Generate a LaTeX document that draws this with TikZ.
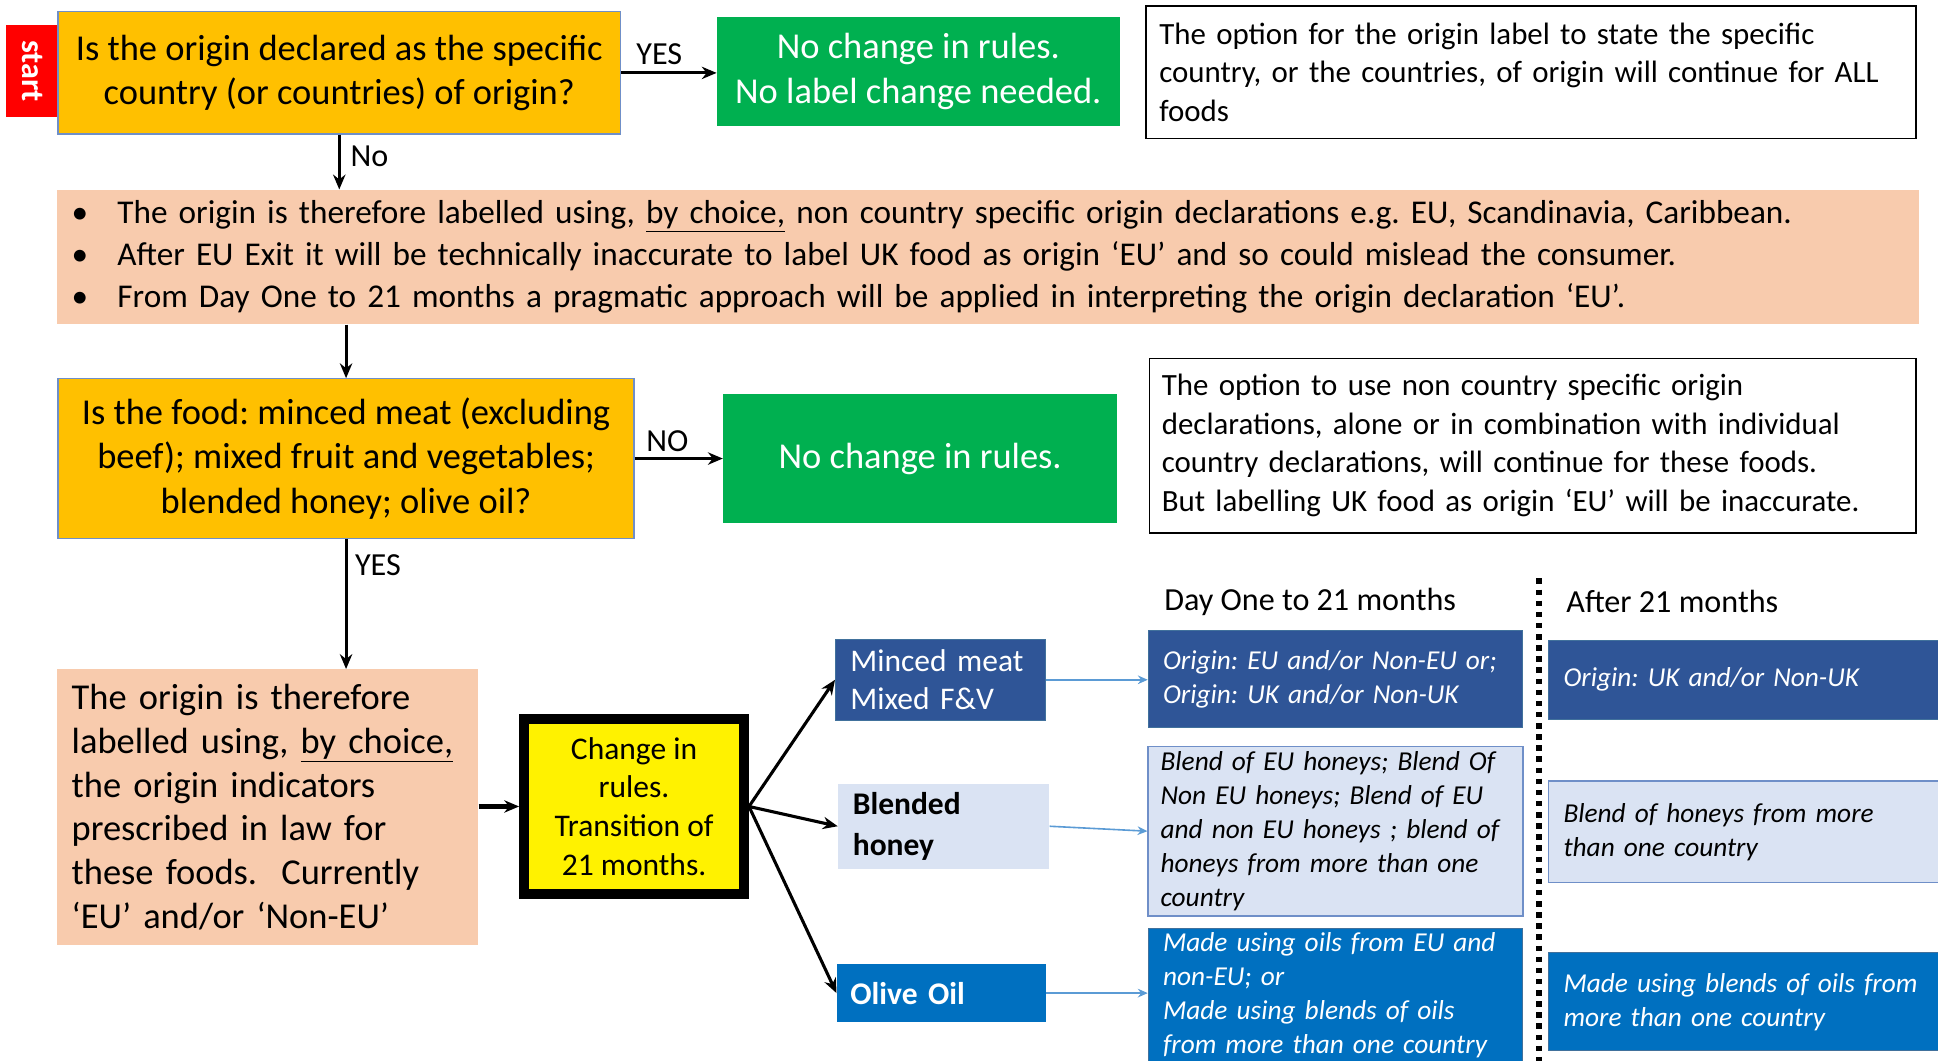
\documentclass[tikz,border=0pt]{standalone}
\usepackage{fontspec}
\setmainfont{Carlito}
\usepackage{xcolor}
\usetikzlibrary{arrows.meta}
\definecolor{qyellow}{RGB}{255,192,0}
\definecolor{okgreen}{RGB}{0,176,80}
\definecolor{salmon}{RGB}{248,203,173}
\definecolor{navy}{RGB}{47,85,151}
\definecolor{paleblue}{RGB}{218,227,243}
\definecolor{oilblue}{RGB}{0,112,192}
\definecolor{edgeblue}{RGB}{65,113,156}
\definecolor{frameblue}{RGB}{111,143,200}
\definecolor{linkblue}{RGB}{91,155,213}
\newcommand{\bul}{\makebox[37pt][l]{\textbullet}}
\frenchspacing

\begin{document}
\begin{tikzpicture}[x=1pt,y=-1pt,>={Stealth[length=12pt,width=10pt]}]
            \tikzset{
                box/.style={
                    rectangle,
                    inner sep=0pt,
                    align=center
                },
                question/.style={box, fill=qyellow, draw=frameblue, line width=1pt,
                    font=\fontsize{29.5}{36}\selectfont},
                verdict/.style={box, fill=okgreen, text=white,
                    font=\fontsize{29.5}{36}\selectfont},
                remark/.style={box, draw=black, line width=1.3pt, fill=white,
                    align=left, inner xsep=11pt, font=\fontsize{25}{31.3}\selectfont},
                info/.style={box, fill=salmon, align=left, inner xsep=12pt},
                food/.style={box, align=left, inner xsep=12pt,
                    font=\fontsize{25.5}{31}\selectfont},
                rule/.style={box, align=left, inner xsep=12pt,
                    font=\fontsize{22.1}{27.5}\selectfont\itshape},
                tag/.style={inner sep=0pt, font=\fontsize{26}{30}\selectfont},
                flow/.style={->, line width=2.5pt},
                link/.style={-{Stealth[length=8pt,width=7pt]}, linkblue, line width=1.3pt}
            }
            \useasboundingbox (0,0) rectangle (1568,858);

            % First question
            \node[box, fill=red, text=white, rotate=-90, minimum width=75pt,
                minimum height=43pt, font=\fontsize{26}{30}\selectfont\bfseries]
                (start) at (26.5,57.5) {start};
            \node[question, minimum width=455pt, minimum height=99pt] (Q_Country) at (274.5,59)
                {Is the origin declared as the specific\\country (or countries) of origin?};
            \node[verdict, minimum width=326pt, minimum height=88pt] (V_Label) at (743,58)
                {No change in rules.\\No label change needed.};
            \node[remark, minimum width=623pt, minimum height=107pt, text width=601pt]
                (R_AllFoods) at (1238.5,58.5)
                {The option for the origin label to state the specific\\
                 country, or the countries, of origin will continue for ALL\\
                 foods};

            % Band of bullet points
            \node[info, minimum width=1507pt, minimum height=109pt, text width=1483pt,
                font=\fontsize{26.9}{34}\selectfont] (I_Band) at (799.5,208)
                {\bul The origin is therefore labelled using, \underline{by choice,} non country specific origin declarations e.g. EU, Scandinavia, Caribbean.\\
                 \bul After EU Exit it will be technically inaccurate to label UK food as origin ‘EU’ and so could mislead the consumer.\\
                 \bul From Day One to 21 months a pragmatic approach will be applied in interpreting the origin declaration ‘EU’.};

            % Second question
            \node[question, minimum width=466pt, minimum height=129pt] (Q_Food) at (280,371)
                {Is the food: minced meat (excluding\\beef); mixed fruit and vegetables;\\blended honey; olive oil?};
            \node[verdict, minimum width=319pt, minimum height=104pt] (V_Rules) at (744.5,371)
                {No change in rules.};
            \node[remark, minimum width=620pt, minimum height=141pt, text width=600pt,
                inner xsep=10pt] (R_TheseFoods) at (1240,360.5)
                {The option to use non country specific origin\\
                 declarations, alone or in combination with individual\\
                 country declarations, will continue for these foods.\\
                 But labelling UK food as origin ‘EU’ will be inaccurate.};

            % Transition
            \node[info, minimum width=341pt, minimum height=223pt, text width=317pt,
                font=\fontsize{29.5}{35.4}\selectfont] (I_Law) at (216.5,653)
                {The origin is therefore\\labelled using, \underline{by choice,}\\the origin indicators\\
                 prescribed in law for\\these foods.\ \ Currently\\‘EU’ and/or ‘Non-EU’};
            \node[box, fill=yellow, draw=black, line width=8pt, minimum width=178pt,
                minimum height=141pt, font=\fontsize{25.5}{31.3}\selectfont]
                (T_Change) at (513,652.5)
                {Change in\\rules.\\Transition of\\21 months.};

            %% Foods
            \node[food, fill=navy, draw=edgeblue, line width=0.8pt, text=white,
                minimum width=170pt, minimum height=66pt, text width=146pt]
                (F_Mince) at (761,550) {Minced meat\\Mixed F\&V};
            \node[food, fill=paleblue, minimum width=171pt, minimum height=69pt,
                text width=147pt, font=\fontsize{25.5}{33}\selectfont\bfseries]
                (F_Honey) at (763.5,668.5) {Blended\\honey};
            \node[food, fill=oilblue, text=white, minimum width=169pt, minimum height=47pt,
                text width=147pt, inner xsep=11pt, font=\fontsize{25.5}{31}\selectfont\bfseries]
                (F_Oil) at (761.5,803.5) {Olive Oil};

            %% Day One to 21 months
            \node[tag] (H_Day) at (1060,487) {Day One to 21 months};
            \node[rule, fill=navy, draw=edgeblue, line width=0.8pt, text=white,
                minimum width=303pt, minimum height=79pt, text width=279pt]
                (D_Mince) at (1080.5,549.5)
                {Origin: EU and/or Non-EU or;\\Origin: UK and/or Non-UK};
            \node[rule, fill=paleblue, draw=frameblue, line width=1.3pt,
                minimum width=303pt, minimum height=137pt, text width=283pt, inner xsep=10pt]
                (D_Honey) at (1080.5,672.5)
                {Blend of EU honeys; Blend Of\\Non EU honeys; Blend of EU\\
                 and non EU honeys ; blend of\\honeys from more than one\\country};
            \node[rule, fill=oilblue, draw=edgeblue, line width=0.8pt, text=white,
                minimum width=303pt, minimum height=108pt, text width=279pt]
                (D_Oil) at (1080.5,805)
                {Made using oils from EU and\\non-EU; or\\Made using blends of oils\\from more than one country};

            %% After 21 months
            \node[tag] (H_After) at (1353,487) {After 21 months};
            \node[rule, fill=navy, draw=edgeblue, line width=0.8pt, text=white,
                minimum width=320pt, minimum height=64pt, text width=296pt]
                (A_Mince) at (1413,550) {Origin: UK and/or Non-UK};
            \node[rule, fill=paleblue, draw=frameblue, line width=1.3pt,
                minimum width=320pt, minimum height=82pt, text width=296pt]
                (A_Honey) at (1413,673) {Blend of honeys from more\\than one country};
            \node[rule, fill=oilblue, draw=edgeblue, line width=0.8pt, text=white,
                minimum width=320pt, minimum height=79pt, text width=296pt]
                (A_Oil) at (1413,810.5) {Made using blends of oils from\\more than one country};

            \coordinate (Div_T) at (1245,468);
            \coordinate (Div_B) at (1245,862);
            \draw[line width=4.5pt, dash pattern=on 4.5pt off 4.5pt] (Div_T) -- (Div_B);

            % Connectors
            \draw[flow] (Q_Country.east) -- node[tag, above=5pt, pos=0.4] {YES}
                (Q_Country.east -| V_Label.west);
            \draw[flow] (Q_Country.south) -- node[tag, right=8pt, pos=0.4] {No}
                (Q_Country.south |- I_Band.north);
            \draw[flow] (I_Band.south -| Q_Food.north) -- (Q_Food.north);
            \draw[flow] (Q_Food.east) -- node[tag, above=4pt, pos=0.37] {NO}
                (Q_Food.east -| V_Rules.west);
            \draw[flow] (Q_Food.south) -- node[tag, right=6pt, pos=0.2] {YES}
                (Q_Food.south |- I_Law.north);
            \draw[flow, line width=4pt] (I_Law.east |- T_Change.west) -- (T_Change.west);
            \draw[flow] (T_Change.east) -- (F_Mince.west);
            \draw[flow] (T_Change.east) -- (F_Honey.west);
            \draw[flow] (T_Change.east) -- (F_Oil.west);
            \draw[link] (F_Mince.east) -- (F_Mince.east -| D_Mince.west);
            \draw[link] (F_Honey.east) -- (D_Honey.west);
            \draw[link] (F_Oil.east) -- (F_Oil.east -| D_Oil.west);
        \end{tikzpicture}
\end{document}
